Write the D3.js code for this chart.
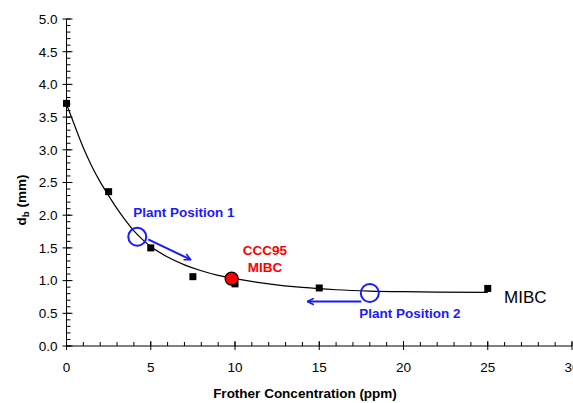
<!DOCTYPE html>
<html>
<head>
<meta charset="utf-8">
<script src="https://cdn.jsdelivr.net/npm/d3@7"></script>
<style>
html,body{margin:0;padding:0;background:#fff;overflow:hidden;}
svg{display:block;font-family:"Liberation Sans",Arial,sans-serif;}
</style>
</head>
<body>
<svg id="chart" width="573" height="403"></svg>
<script>
// Measured data points (black squares)
const conc = [0, 2.5, 5, 7.5, 10, 15, 25];
const db = [3.71, 2.36, 1.50, 1.06, 0.95, 0.887, 0.88];
// Fitted curve
const curveX = [0, 0.5, 1, 1.5, 2, 2.5, 3, 3.5, 4, 4.5, 5, 6, 7, 8, 9, 10, 12, 14, 16, 18, 20, 22, 25];
const curveY = [3.70, 3.36, 3.03, 2.75, 2.51, 2.30, 2.10, 1.92, 1.76, 1.63, 1.52, 1.36, 1.24, 1.15, 1.08, 1.03, 0.95, 0.895, 0.86, 0.84, 0.83, 0.825, 0.82];
// CCC95 / MIBC point
const refPoint = [9.8, 1.03];
// Plant positions (open circles) and arrows
const plantPos = [[4.2, 1.67], [18.0, 0.81]];
const arrows = [[[4.85, 1.63], [7.37, 1.32]], [[17.5, 0.68], [14.3, 0.68]]];
const xTicks = [0, 5, 10, 15, 20, 25, 30];
const yTicks = [0, 0.5, 1, 1.5, 2, 2.5, 3, 3.5, 4, 4.5, 5];

const svg = d3.select("#chart");
const x = d3.scaleLinear().domain([0, 30]).range([66.5, 572]);
const y = d3.scaleLinear().domain([0, 5]).range([346, 19]);

const blue = "#1a1aff", red = "#ff0000";

// Y axis
const gy = svg.append("g").attr("transform", `translate(${x(0)},0)`);
gy.append("line").attr("y1", y(0)).attr("y2", y(5)).attr("stroke", "#000");
gy.selectAll(".minor").data(d3.range(0, 50.1, 1).map(d => d / 10)).join("line")
  .attr("x1", 0).attr("x2", 4).attr("y1", d => y(d)).attr("y2", d => y(d)).attr("stroke", "#000");
gy.selectAll(".major").data(yTicks).join("line")
  .attr("x1", -4).attr("x2", 6).attr("y1", d => y(d)).attr("y2", d => y(d)).attr("stroke", "#000");
gy.selectAll("text").data(yTicks).join("text")
  .attr("x", -9).attr("y", d => y(d)).attr("dy", "0.36em").attr("text-anchor", "end")
  .attr("font-size", 13.5).text(d => d3.format(".1f")(d));

// X axis
const gx = svg.append("g").attr("transform", `translate(0,${y(0)})`);
gx.append("line").attr("x1", x(0)).attr("x2", x(30)).attr("stroke", "#000");
gx.selectAll(".minor").data(d3.range(0, 31, 1)).join("line")
  .attr("x1", d => x(d)).attr("x2", d => x(d)).attr("y1", 0).attr("y2", -4).attr("stroke", "#000");
gx.selectAll(".major").data(xTicks).join("line")
  .attr("x1", d => x(d)).attr("x2", d => x(d)).attr("y1", -5).attr("y2", 4).attr("stroke", "#000");
gx.selectAll("text").data(xTicks).join("text")
  .attr("x", d => x(d)).attr("y", 26).attr("text-anchor", "middle")
  .attr("font-size", 13.5).text(d => d);

// Axis titles
svg.append("text").attr("x", 305).attr("y", 398).attr("text-anchor", "middle")
  .attr("font-size", 13.5).attr("font-weight", "bold").text("Frother Concentration (ppm)");
const yt = svg.append("text").attr("transform", "translate(26,200) rotate(-90)")
  .attr("text-anchor", "middle").attr("font-size", 13.5).attr("font-weight", "bold");
yt.append("tspan").text("d");
yt.append("tspan").attr("font-size", 9.5).attr("dy", 3).text("b");
yt.append("tspan").attr("dy", -3).text(" (mm)");

// Fitted curve
const line = d3.line().x(d => x(d[0])).y(d => y(d[1])).curve(d3.curveMonotoneX);
svg.append("path").datum(curveX.map((v, i) => [v, curveY[i]]))
  .attr("d", line).attr("fill", "none").attr("stroke", "#000").attr("stroke-width", 1.2);

// Data squares
svg.selectAll(".sq").data(conc.map((v, i) => [v, db[i]])).join("rect")
  .attr("x", d => x(d[0]) - 3.5).attr("y", d => y(d[1]) - 3.5)
  .attr("width", 7).attr("height", 7).attr("fill", "#000");

// Arrow marker
svg.append("defs").append("marker").attr("id", "arr")
  .attr("viewBox", "0 0 10 10").attr("refX", 9).attr("refY", 5)
  .attr("markerWidth", 8).attr("markerHeight", 8).attr("markerUnits", "userSpaceOnUse")
  .attr("orient", "auto")
  .append("path").attr("d", "M1,1 L9,5 L1,9").attr("fill", "none").attr("stroke", blue).attr("stroke-width", 2);

svg.selectAll(".arrow").data(arrows).join("line")
  .attr("x1", d => x(d[0][0])).attr("y1", d => y(d[0][1]))
  .attr("x2", d => x(d[1][0])).attr("y2", d => y(d[1][1]))
  .attr("stroke", blue).attr("stroke-width", 2).attr("marker-end", "url(#arr)");

// Plant position circles
svg.selectAll(".pp").data(plantPos).join("circle")
  .attr("cx", d => x(d[0])).attr("cy", d => y(d[1])).attr("r", 9)
  .attr("fill", "none").attr("stroke", blue).attr("stroke-width", 2);

// Red CCC95 point
svg.append("circle").attr("cx", x(refPoint[0])).attr("cy", y(refPoint[1])).attr("r", 6.5)
  .attr("fill", red).attr("stroke", "#000").attr("stroke-width", 1.2);

// Labels
svg.append("text").attr("x", 184).attr("y", 217).attr("text-anchor", "middle")
  .attr("font-size", 13.5).attr("font-weight", "bold").attr("fill", blue).text("Plant Position 1");
svg.append("text").attr("x", 410).attr("y", 318).attr("text-anchor", "middle")
  .attr("font-size", 13.5).attr("font-weight", "bold").attr("fill", blue).text("Plant Position 2");
svg.append("text").attr("x", 265).attr("y", 255).attr("text-anchor", "middle")
  .attr("font-size", 13.5).attr("font-weight", "bold").attr("fill", red).text("CCC95");
svg.append("text").attr("x", 265).attr("y", 272).attr("text-anchor", "middle")
  .attr("font-size", 13.5).attr("font-weight", "bold").attr("fill", red).text("MIBC");
svg.append("text").attr("x", 504).attr("y", 303)
  .attr("font-size", 17).attr("fill", "#000").text("MIBC");
</script>
</body>
</html>
